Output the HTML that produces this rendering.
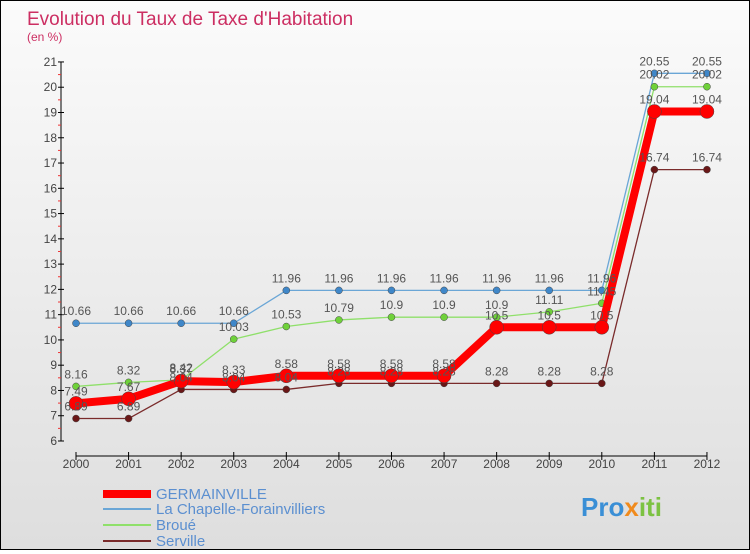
<!DOCTYPE html>
<html><head><meta charset="utf-8"><style>
body{margin:0;width:750px;height:550px;overflow:hidden;font-family:"Liberation Sans",sans-serif}
#wrap{position:relative;width:748px;height:548px;border:1px solid #000;background:linear-gradient(#fbfbfb,#dedede)}
</style></head><body>
<div id="wrap">
<svg id="chart" width="748" height="548" xmlns="http://www.w3.org/2000/svg">
<text x="26" y="24" font-size="19" fill="#cc2e62">Evolution du Taux de Taxe d'Habitation</text>
<text x="26" y="40" font-size="12" fill="#cc2e62">(en %)</text>
<g id="axes"></g><g id="series"></g><g id="labels"></g>
<g>
<line x1="102" y1="493" x2="150" y2="493" stroke="#ff0000" stroke-width="8"/>
<text x="155" y="498" font-size="15" fill="#5b8fd0">GERMAINVILLE</text>
<line x1="102" y1="508" x2="150" y2="508" stroke="#6aa6d6" stroke-width="2"/>
<text x="155" y="513" font-size="15" fill="#5b8fd0">La Chapelle-Forainvilliers</text>
<line x1="102" y1="524" x2="150" y2="524" stroke="#8fe06a" stroke-width="2"/>
<text x="155" y="529" font-size="15" fill="#5b8fd0">Broué</text>
<line x1="102" y1="540" x2="150" y2="540" stroke="#7a2b2b" stroke-width="2"/>
<text x="155" y="545" font-size="15" fill="#5b8fd0">Serville</text>
</g>
<text x="580" y="515" font-size="26" font-weight="bold" fill="#3a8fd6">Pro<tspan fill="#f08a1c">x</tspan><tspan fill="#7cc242">iti</tspan></text>
</svg>
</div>
<script>
const years=[2000,2001,2002,2003,2004,2005,2006,2007,2008,2009,2010,2011,2012];
const yTicks=[6,7,8,9,10,11,12,13,14,15,16,17,18,19,20,21];
const germainville=[7.49,7.67,8.37,8.33,8.58,8.58,8.58,8.58,10.5,10.5,10.5,19.04,19.04];
const chapelle=[10.66,10.66,10.66,10.66,11.96,11.96,11.96,11.96,11.96,11.96,11.96,20.55,20.55];
const broue=[8.16,8.32,8.42,10.03,10.53,10.79,10.9,10.9,10.9,11.11,11.45,20.02,20.02];
const serville=[6.89,6.89,8.04,8.04,8.04,8.28,8.28,8.28,8.28,8.28,8.28,16.74,16.74];
const NS='http://www.w3.org/2000/svg';
const xS=i=>75+i*52.58;
const yS=v=>440-(v-6)*25.27;
function mk(t,a,p){const e=document.createElementNS(NS,t);for(const k in a)e.setAttribute(k,a[k]);p.appendChild(e);return e;}
const ax=document.getElementById('axes'),sg=document.getElementById('series'),lg=document.getElementById('labels');
let e=mk('line',{x1:60,y1:yS(21),x2:60,y2:yS(6),stroke:'#000'},ax);

e=mk('line',{x1:xS(0),y1:455,x2:xS(12),y2:455,stroke:'#000'},ax);

yTicks.forEach(v=>{
 mk('line',{x1:57,y1:yS(v),x2:63,y2:yS(v),stroke:'#000'},ax);
 if(v<21) mk('line',{x1:57,y1:yS(v+0.5),x2:60,y2:yS(v+0.5),stroke:'#e33'},ax);
 const t=mk('text',{x:56,y:yS(v)+4,'font-size':12,fill:'#444','text-anchor':'end'},ax);t.textContent=v;
 
});
years.forEach((y,i)=>{
 mk('line',{x1:xS(i),y1:451,x2:xS(i),y2:459,stroke:'#000'},ax);
 const t=mk('text',{x:xS(i),y:467,'font-size':12,fill:'#444','text-anchor':'middle'},ax);t.textContent=y;
 
});
function series(vals,color,w,r,dot,name){
 const p=mk('polyline',{points:vals.map((v,i)=>xS(i)+','+yS(v)).join(' '),fill:'none',stroke:color,'stroke-width':w,'stroke-linejoin':'round'},sg);
 
 vals.forEach((v,i)=>{
  const c=mk('circle',{cx:xS(i),cy:yS(v),r:r,fill:dot,stroke:'#444','stroke-width':0.5},sg);
  
  const t=mk('text',{x:xS(i),y:yS(v)-8,'font-size':12,fill:'#555','text-anchor':'middle'},lg);t.textContent=v;
  
 });
}
series(chapelle,'#6aa6d6',1.3,3.5,'#3f87c9','la-chapelle');
series(broue,'#8fe06a',1.3,3.5,'#6fd13a','broue');
series(serville,'#7a2b2b',1.3,3.5,'#6a1717','serville');
series(germainville,'#ff0000',8,7,'#ff0000','germainville');
</script>
</body></html>
